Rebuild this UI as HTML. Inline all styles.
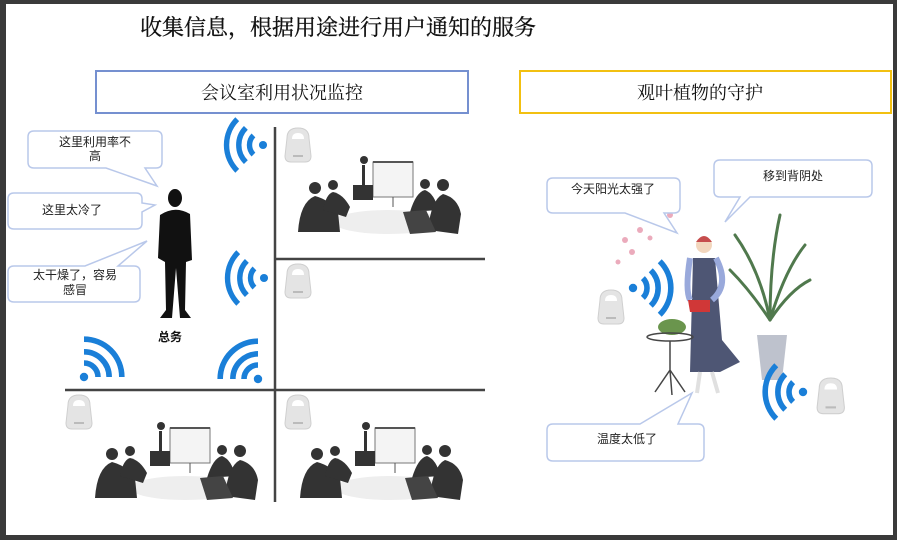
<!DOCTYPE html>
<html><head><meta charset="utf-8">
<style>
html,body{margin:0;padding:0;background:#fff}
body{width:897px;height:540px;overflow:hidden;position:relative;font-family:"Liberation Sans","Noto Sans CJK SC",sans-serif}
svg{position:absolute;left:0;top:0}
</style></head><body>
<svg width="897" height="540" viewBox="0 0 897 540">
<defs>
<g id="sensor">
<path d="M4 10 Q4 0 15 0 Q26 0 26 10 L28 28 Q28 34 22 34 L8 34 Q2 34 2 28 Z" fill="#e4e4e4" stroke="#cfcfcf"/>
<path d="M9 11 Q9 5 15 5 Q21 5 21 11 Z" fill="#fff"/>
<rect x="10" y="27" width="10" height="2" fill="#bbb"/>
</g>
<g id="wifi" fill="none" stroke="#1a7fd8" stroke-width="4">
<path d="M-7.07 -7.07 A10 10 0 0 0 -7.07 7.07"/>
<path d="M-12.7 -12.7 A18 18 0 0 0 -12.7 12.7"/>
<path d="M-19.1 -19.1 A27 27 0 0 0 -19.1 19.1"/>
<circle cx="0" cy="0" r="3" fill="#1a7fd8" stroke="none"/>
</g>
<g id="room">
<rect x="0" y="0" width="170" height="90" fill="#fff"/>
<rect x="75" y="10" width="40" height="35" fill="#f4f4f4" stroke="#777" stroke-width="1"/>
<line x1="75" y1="10" x2="115" y2="10" stroke="#555" stroke-width="2"/>
<line x1="95" y1="45" x2="95" y2="55" stroke="#555"/>
<ellipse cx="90" cy="70" rx="55" ry="12" fill="#eee"/>
<circle cx="66" cy="8" r="4" fill="#333"/>
<rect x="64" y="13" width="3" height="25" fill="#333"/>
<rect x="55" y="33" width="20" height="15" fill="#333"/>
<circle cx="17" cy="36" r="6" fill="#333"/><path d="M0 80 Q2 50 17 44 Q32 48 40 60 L42 80 Z" fill="#333"/>
<circle cx="35" cy="33" r="5" fill="#333"/><path d="M25 58 Q28 42 35 40 Q45 42 52 55 L48 65 Z" fill="#333"/>
<circle cx="127" cy="32" r="5" fill="#333"/><path d="M112 60 Q118 40 127 38 Q137 42 140 58 Z" fill="#333"/>
<circle cx="145" cy="33" r="6" fill="#333"/><path d="M130 78 Q133 48 145 42 Q160 46 163 62 L160 82 Z" fill="#333"/>
<path d="M105 60 L128 58 L138 80 L112 82 Z" fill="#444"/>
</g>
</defs>
<rect x="0" y="0" width="897" height="540" fill="#3a3a3a"/>
<rect x="6" y="4" width="887" height="531" fill="#fff"/>
<text x="140" y="35" font-family="'Liberation Serif','Noto Serif CJK SC',serif" font-size="22" fill="#111" stroke="#111" stroke-width="0.3">收集信息，根据用途进行用户通知的服务</text>
<rect x="96" y="71" width="372" height="42" fill="#fff" stroke="#7590d0" stroke-width="2"/>
<text x="282" y="99" text-anchor="middle" font-family="'Liberation Serif','Noto Serif CJK SC',serif" font-size="18" fill="#111">会议室利用状况监控</text>
<rect x="520" y="71" width="371" height="42" fill="#fff" stroke="#f2c011" stroke-width="2"/>
<text x="700" y="99" text-anchor="middle" font-family="'Liberation Serif','Noto Serif CJK SC',serif" font-size="18" fill="#111">观叶植物的守护</text>

<line x1="275" y1="127" x2="275" y2="502" stroke="#444" stroke-width="2.5"/>
<line x1="276" y1="259" x2="485" y2="259" stroke="#444" stroke-width="2.5"/>
<line x1="65" y1="390" x2="485" y2="390" stroke="#444" stroke-width="2.5"/>

<use href="#room" x="298" y="152"/>
<use href="#room" x="95" y="418"/>
<use href="#room" x="300" y="418"/>
<use href="#sensor" x="283" y="128"/>
<use href="#sensor" x="283" y="264"/>
<use href="#sensor" x="64" y="395"/>
<use href="#sensor" x="283" y="395"/>
<use href="#wifi" transform="translate(263,145) scale(1.35)"/>
<use href="#wifi" transform="translate(264,278) scale(1.35)"/>
<use href="#wifi" transform="translate(84,377) rotate(135) scale(1.4)"/>
<use href="#wifi" transform="translate(258,379) rotate(45) scale(1.4)"/>

<g fill="#fff" stroke="#b9c8ea" stroke-width="1.5">
<path d="M34 131 H156 Q162 131 162 137 V162 Q162 168 156 168 H145 L157 186 L106 168 H34 Q28 168 28 162 V137 Q28 131 34 131 Z"/>
<path d="M14 193 H136 Q142 193 142 199 V203 L155 205 L142 212 V223 Q142 229 136 229 H14 Q8 229 8 223 V199 Q8 193 14 193 Z"/>
<path d="M14 266 H85 L147 241 L118 266 H134 Q140 266 140 272 V296 Q140 302 134 302 H14 Q8 302 8 296 V272 Q8 266 14 266 Z"/>
</g>
<g font-size="12" fill="#222" text-anchor="middle">
<text x="95" y="146">这里利用率不</text><text x="95" y="160">高</text>
<text x="72" y="214">这里太冷了</text>
<text x="75" y="279">太干燥了，容易</text><text x="75" y="294">感冒</text>
</g>
<g fill="#111">
<ellipse cx="175" cy="198" rx="7" ry="9"/>
<path d="M160 215 Q175 205 190 214 L192 260 L186 262 L185 310 L191 318 L180 318 L176 268 L172 318 L160 318 L166 310 L165 262 L158 258 Z"/>
</g>
<text x="170" y="341" text-anchor="middle" font-size="12" font-weight="bold" fill="#111">总务</text>

<g opacity="0.9">
<g fill="#e9a3b5"><circle cx="625" cy="240" r="3"/><circle cx="640" cy="230" r="3"/><circle cx="655" cy="222" r="3"/><circle cx="632" cy="252" r="3"/><circle cx="670" cy="215" r="3"/><circle cx="618" cy="262" r="2.5"/><circle cx="650" cy="238" r="2.5"/></g>
<g stroke="#3e6b3a" stroke-width="3" fill="none" stroke-linecap="round">
<path d="M770 320 Q760 270 735 235"/><path d="M770 320 Q770 260 780 215"/><path d="M770 320 Q785 270 805 245"/><path d="M770 320 Q750 290 730 270"/><path d="M770 320 Q790 290 810 280"/>
</g>
<path d="M757 335 H787 L782 380 H762 Z" fill="#b8bcc8"/>
<circle cx="704" cy="245" r="8" fill="#f1d2b6"/><path d="M696 242 Q704 230 712 242" fill="#c03a3a"/>
<path d="M693 258 H715 L722 340 L740 362 L720 372 H690 Z" fill="#3b4466"/>
<path d="M690 258 Q685 290 690 300" stroke="#8ea0d8" stroke-width="6" fill="none"/>
<path d="M716 258 Q730 285 712 300" stroke="#8ea0d8" stroke-width="6" fill="none"/>
<path d="M700 372 L697 393 M712 372 L718 393" stroke="#ddd" stroke-width="4"/>
<path d="M688 300 H710 V312 H690 Z" fill="#c22"/>
<ellipse cx="672" cy="327" rx="14" ry="8" fill="#5a8a3a"/>
<ellipse cx="670" cy="337" rx="23" ry="4" fill="none" stroke="#333" stroke-width="1.5"/>
<path d="M670 341 V370 L655 392 M670 370 L685 392 M670 370 L672 395" stroke="#333" stroke-width="1.5" fill="none"/>
</g>
<use href="#sensor" x="596" y="290"/>
<use href="#sensor" transform="translate(815,378) scale(1.05)"/>
<use href="#wifi" transform="translate(633,288) rotate(180) scale(1.4)"/>
<use href="#wifi" transform="translate(803,392) scale(1.4)"/>

<g fill="#fff" stroke="#b9c8ea" stroke-width="1.5">
<path d="M553 178 H674 Q680 178 680 184 V207 Q680 213 674 213 H664 L677 233 L625 213 H553 Q547 213 547 207 V184 Q547 178 553 178 Z"/>
<path d="M720 160 H866 Q872 160 872 166 V191 Q872 197 866 197 H750 L725 222 L740 197 H720 Q714 197 714 191 V166 Q714 160 720 160 Z"/>
<path d="M553 424 H640 L692 393 L678 424 H698 Q704 424 704 430 V455 Q704 461 698 461 H553 Q547 461 547 455 V430 Q547 424 553 424 Z"/>
</g>
<g font-size="12" fill="#222" text-anchor="middle">
<text x="613" y="193">今天阳光太强了</text>
<text x="793" y="180">移到背阴处</text>
<text x="627" y="443">温度太低了</text>
</g>
</svg>
</body></html>
